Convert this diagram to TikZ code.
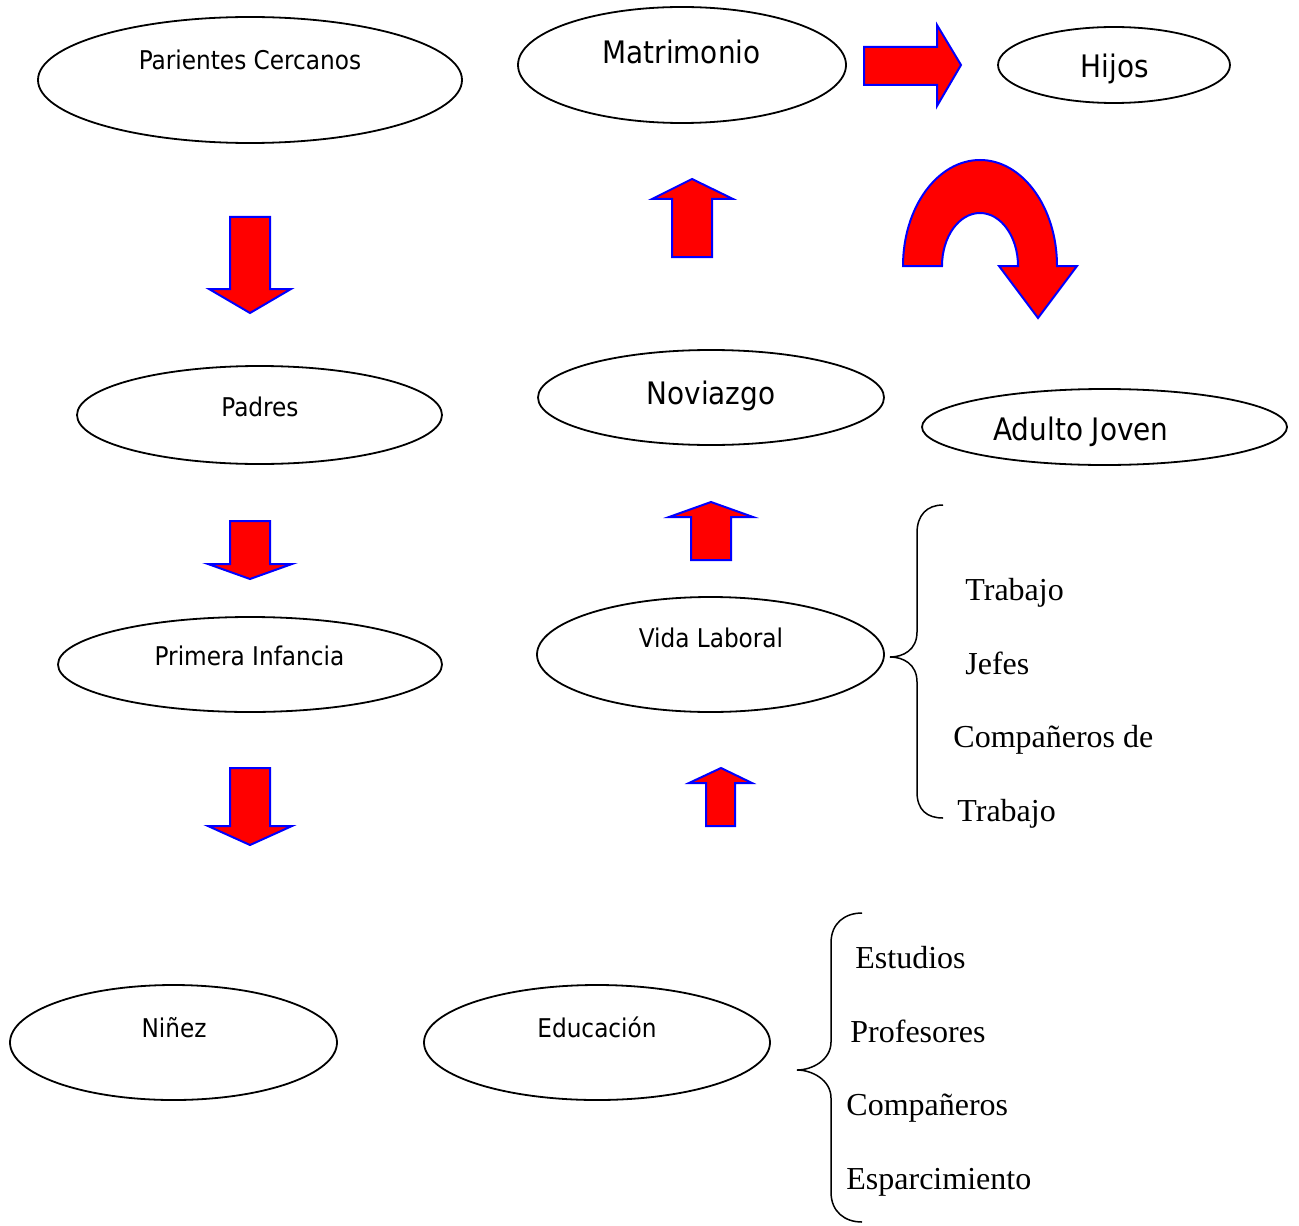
\documentclass[tikz,border=0pt]{standalone}
\usepackage{fontspec}
\newfontfamily\labelfont{DejaVu Sans Condensed}
\newfontfamily\bracefont{Liberation Serif}
\usepackage{tikz}
\usetikzlibrary{shapes.geometric}

\tikzset{
	bubble/.style={ellipse, draw, line width=0.9pt, inner sep=0pt},
	chico/.style={font=\labelfont\fontsize{12.9}{15}\selectfont, inner sep=0pt, anchor=base},
	grande/.style={font=\labelfont\fontsize{15.5}{18}\selectfont, inner sep=0pt, anchor=base},
	item/.style={font=\bracefont\fontsize{16}{19}\selectfont, inner sep=0pt, anchor=base west},
	flecha/.style={fill=red, draw=blue, line width=1pt, line join=miter},
	llave/.style={line width=0.75pt}
}

\begin{document}
\begin{tikzpicture}[x=0.5pt, y=-0.5pt]
	\useasboundingbox (0,0) rectangle (1299,1225);

	% ovalos
	\node [bubble, minimum width=212pt, minimum height=63pt] (parientes) at (250,80) {};
	\node [bubble, minimum width=164pt, minimum height=58pt] (matrimonio) at (682,65) {};
	\node [bubble, minimum width=116pt, minimum height=38pt] (hijos) at (1114,65) {};
	\node [bubble, minimum width=182.5pt, minimum height=49pt] (padres) at (259.5,415) {};
	\node [bubble, minimum width=173pt, minimum height=47.5pt] (noviazgo) at (711,397.5) {};
	\node [bubble, minimum width=182.5pt, minimum height=38pt] (adulto) at (1104.5,427) {};
	\node [bubble, minimum width=192pt, minimum height=47.5pt] (infancia) at (250,664.5) {};
	\node [bubble, minimum width=173.5pt, minimum height=57.5pt] (laboral) at (710.5,654.5) {};
	\node [bubble, minimum width=163.5pt, minimum height=57.5pt] (ninez) at (173.5,1042.5) {};
	\node [bubble, minimum width=173pt, minimum height=57.5pt] (educacion) at (597,1042.5) {};

	\node [chico] (parientes-t) at (250,70) {Parientes Cercanos};
	\node [grande] (matrimonio-t) at (681.5,64) {Matrimonio};
	\node [grande] (hijos-t) at (1115,78) {Hijos};
	\node [chico] (padres-t) at (260,416) {Padres};
	\node [grande] (noviazgo-t) at (711,404) {Noviazgo};
	\node [grande] (adulto-t) at (1081,440) {Adulto Joven};
	\node [chico] (infancia-t) at (249.5,665) {Primera Infancia};
	\node [chico] (laboral-t) at (711,647) {Vida Laboral};
	\node [chico] (ninez-t) at (174,1037) {Niñez};
	\node [chico] (educacion-t) at (597,1037) {Educación};

	% flechas hacia abajo
	\draw [flecha] (230,217) -- (270,217) -- (270,289) -- (291,289) -- (250,313) -- (209,289) -- (230,289) -- cycle;
	\draw [flecha] (230,521) -- (270,521) -- (270,564) -- (292,564) -- (250,579) -- (208,564) -- (230,564) -- cycle;
	\draw [flecha] (230,768) -- (270,768) -- (270,826) -- (292,826) -- (250,845) -- (208,826) -- (230,826) -- cycle;
	% flechas hacia arriba
	\draw [flecha] (672,257) -- (672,199) -- (652,199) -- (692,179) -- (733,199) -- (712,199) -- (712,257) -- cycle;
	\draw [flecha] (691,560) -- (691,517) -- (669,517) -- (711,502) -- (753,517) -- (731,517) -- (731,560) -- cycle;
	\draw [flecha] (706,826) -- (706,783) -- (689,783) -- (721,768) -- (752,783) -- (735,783) -- (735,826) -- cycle;
	% flecha a Hijos
	\draw [flecha] (864,47) -- (937,47) -- (937,25) -- (961,65) -- (937,106) -- (937,85) -- (864,85) -- cycle;
	% flecha curva
	\draw [flecha] (903,266) arc (180:360:77 and 106) -- (1077,266) -- (1038,318) -- (999,266) -- (1018,266) arc (360:180:38 and 53) -- cycle;

	% llaves
	\draw [llave] (943,505) .. controls (927,505) and (917,515) .. (917,533) -- (917,632) .. controls (917,650) and (903,657) .. (890,657) .. controls (903,657) and (917,664) .. (917,682) -- (917,792) .. controls (917,810) and (927,818) .. (943,818);
	\draw [llave] (862,913) .. controls (845,913) and (831,923) .. (831,943) -- (831,1042) .. controls (831,1060) and (812,1070) .. (797,1070) .. controls (812,1070) and (831,1080) .. (831,1098) -- (831,1192) .. controls (831,1212) and (845,1222) .. (862,1222);

	\node [item] (trabajo) at (965,600) {Trabajo};
	\node [item] (jefes) at (965,674) {Jefes};
	\node [item] (companeros-de) at (953,747) {Compañeros de};
	\node [item] (trabajo2) at (957,821) {Trabajo};

	\node [item] (estudios) at (855,968) {Estudios};
	\node [item] (profesores) at (850,1042) {Profesores};
	\node [item] (companeros) at (846,1115) {Compañeros};
	\node [item] (esparcimiento) at (846,1189) {Esparcimiento};
\end{tikzpicture}
\end{document}
